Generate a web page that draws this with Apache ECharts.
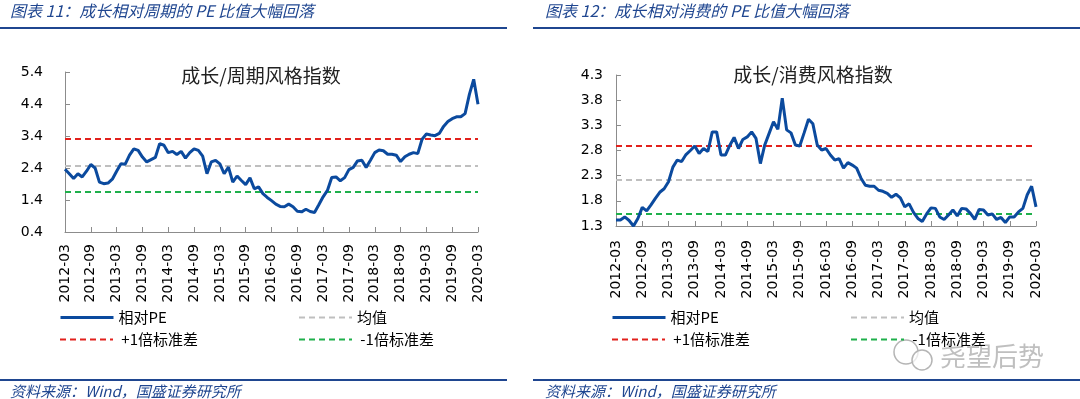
<!DOCTYPE html>
<html>
<head>
<meta charset="utf-8">
<script src="https://cdn.jsdelivr.net/npm/echarts@6/dist/echarts.min.js"></script>
<style>
  html, body { margin: 0; padding: 0; background: #fff; }
  #chart { width: 1080px; height: 399px; }
</style>
</head>
<body>
<div id="chart"></div>
<script>
// 月份：2012-03 ~ 2020-03
const months = []
for (let y = 2012; y <= 2020; y++) {
  for (let m = 1; m <= 12; m++) {
    if ((y === 2012 && m < 3) || (y === 2020 && m > 3)) continue
    months.push(y + '-' + String(m).padStart(2, '0'))
  }
}

// 成长/周期 相对PE
const cyclePE = [
  2.36, 2.22, 2.07, 2.22, 2.12, 2.30, 2.51, 2.40, 1.96, 1.91, 1.93, 2.05,
  2.30, 2.53, 2.52, 2.80, 3.00, 2.95, 2.74, 2.59, 2.66, 2.73, 3.16, 3.11,
  2.88, 2.92, 2.82, 2.92, 2.71, 2.88, 3.00, 2.95, 2.77, 2.22, 2.59, 2.64,
  2.53, 2.22, 2.43, 1.96, 2.15, 2.01, 1.88, 2.09, 1.75, 1.81, 1.60, 1.48,
  1.38, 1.27, 1.20, 1.19, 1.27, 1.19, 1.05, 1.03, 1.11, 1.04, 1.01, 1.25,
  1.50, 1.70, 2.10, 2.12, 2.00, 2.10, 2.35, 2.42, 2.62, 2.64, 2.42, 2.64,
  2.88, 2.96, 2.94, 2.83, 2.83, 2.80, 2.60, 2.75, 2.83, 2.88, 2.85, 3.30,
  3.46, 3.43, 3.41, 3.48, 3.70, 3.85, 3.94, 4.00, 4.00, 4.10, 4.70, 5.17,
  4.39
]
// 均值、+1倍、-1倍标准差
const cycleBands = [2.48, 3.31, 1.67]

// 成长/消费 相对PE
const consumePE = [
  1.42, 1.42, 1.48, 1.41, 1.30, 1.45, 1.67, 1.60, 1.72, 1.85, 1.97, 2.04,
  2.18, 2.47, 2.61, 2.58, 2.72, 2.80, 2.89, 2.74, 2.84, 2.78, 3.17, 3.17,
  2.71, 2.71, 2.90, 3.06, 2.84, 3.02, 3.07, 3.17, 3.04, 2.54, 2.91, 3.14,
  3.37, 3.22, 3.84, 3.21, 3.15, 2.91, 2.89, 3.15, 3.42, 3.33, 2.91, 2.81,
  2.84, 2.71, 2.61, 2.64, 2.45, 2.56, 2.51, 2.45, 2.25, 2.11, 2.09, 2.09,
  2.01, 1.99, 1.95, 1.87, 1.93, 1.86, 1.68, 1.74, 1.57, 1.45, 1.39, 1.54,
  1.66, 1.65, 1.48, 1.43, 1.52, 1.62, 1.50, 1.65, 1.64, 1.55, 1.43, 1.63,
  1.62, 1.52, 1.54, 1.43, 1.47, 1.37, 1.48, 1.48, 1.58, 1.65, 1.92, 2.09,
  1.68
]
const consumeBands = [2.22, 2.89, 1.55]

const bandNames = ['均值', '+1倍标准差', '-1倍标准差']
const bandColors = ['#bfbfbf', '#e2211c', '#1fb04b']
const blue = '#0b4a9e'
const axisGrey = '#8c8c8c'
const headBlue = '#1f4690'
const cjk = '"Noto Sans CJK SC", sans-serif'

function xAxisOf(gridIndex, margin) {
  return {
    gridIndex,
    type: 'category',
    data: months,
    boundaryGap: false,
    axisLine: { lineStyle: { color: axisGrey, width: 1 } },
    axisTick: { inside: true, length: 5, interval: 5, lineStyle: { color: axisGrey } },
    axisLabel: {
      interval: 5, rotate: 90, margin,
      fontFamily: 'DejaVu Sans', fontSize: 14, color: '#000'
    },
    splitLine: { show: false }
  }
}

function yAxisOf(gridIndex, min, max, interval, margin) {
  return {
    gridIndex,
    type: 'value',
    min, max, interval,
    axisLine: { show: true, lineStyle: { color: axisGrey, width: 1 } },
    axisTick: { show: true, inside: true, length: 5, lineStyle: { color: axisGrey } },
    axisLabel: {
      margin, fontFamily: 'DejaVu Sans', fontSize: 14, color: '#000',
      formatter: v => v.toFixed(1)
    },
    splitLine: { show: false }
  }
}

function seriesOf(idx, values, bands) {
  const list = [{
    name: '相对PE',
    type: 'line',
    xAxisIndex: idx,
    yAxisIndex: idx,
    data: values,
    symbol: 'none',
    lineStyle: { color: blue, width: 3 },
    itemStyle: { color: blue },
    z: 5
  }]
  bands.forEach((b, i) => {
    list.push({
      name: bandNames[i],
      type: 'line',
      xAxisIndex: idx,
      yAxisIndex: idx,
      data: [],
      symbol: 'none',
      lineStyle: { color: bandColors[i], width: 2, type: [6, 4] },
      itemStyle: { color: bandColors[i] },
      markLine: {
        silent: true,
        symbol: 'none',
        label: { show: false },
        lineStyle: { color: bandColors[i], width: 2, type: [6, 4] },
        data: [{ yAxis: b }]
      }
    })
  })
  return list
}

function legendOf(name, left, top, pad, width) {
  return {
    data: [name],
    left, top,
    padding: 0,
    itemWidth: 53,
    itemHeight: 14,
    selectedMode: false,
    itemStyle: { opacity: 0 },
    lineStyle: { width },
    formatter: n => (pad ? ' ' : '') + n,
    textStyle: { fontFamily: cjk, fontSize: 15, color: '#000' }
  }
}

const legends = []
;[[59, 298], [611, 850]].forEach(([a, b]) => {
  legends.push(legendOf('相对PE', a, 310, false, 3))
  legends.push(legendOf('均值', b, 310, false, 2))
  legends.push(legendOf('+1倍标准差', a, 332, true, 2))
  legends.push(legendOf('-1倍标准差', b, 332, true, 2))
})

const graphic = [
  // 顶部标题
  { type: 'text', x: 10, y: 11, style: { text: '图表 11：成长相对周期的 PE 比值大幅回落', font: 'italic 16px ' + cjk, fill: headBlue, textVerticalAlign: 'middle' } },
  { type: 'text', x: 545, y: 11, style: { text: '图表 12：成长相对消费的 PE 比值大幅回落', font: 'italic 16px ' + cjk, fill: headBlue, textVerticalAlign: 'middle' } },
  { type: 'line', shape: { x1: 0, y1: 28, x2: 507, y2: 28 }, style: { stroke: headBlue, lineWidth: 2 } },
  { type: 'line', shape: { x1: 533, y1: 28, x2: 1080, y2: 28 }, style: { stroke: headBlue, lineWidth: 2 } },
  // 图内标题
  { type: 'text', x: 261, y: 76, style: { text: '成长/周期风格指数', font: '19px ' + cjk, fill: '#222', textAlign: 'center', textVerticalAlign: 'middle' } },
  { type: 'text', x: 813, y: 75, style: { text: '成长/消费风格指数', font: '19px ' + cjk, fill: '#222', textAlign: 'center', textVerticalAlign: 'middle' } },
  // 底部来源
  { type: 'line', shape: { x1: 0, y1: 380, x2: 507, y2: 380 }, style: { stroke: headBlue, lineWidth: 2 } },
  { type: 'line', shape: { x1: 533, y1: 380, x2: 1080, y2: 380 }, style: { stroke: headBlue, lineWidth: 2 } },
  { type: 'text', x: 10, y: 391, style: { text: '资料来源：Wind，国盛证券研究所', font: 'italic 15px ' + cjk, fill: headBlue, textVerticalAlign: 'middle' } },
  { type: 'text', x: 545, y: 391, style: { text: '资料来源：Wind，国盛证券研究所', font: 'italic 15px ' + cjk, fill: headBlue, textVerticalAlign: 'middle' } },
  // 水印
  { type: 'circle', shape: { cx: 906, cy: 352, r: 12 }, style: { fill: 'rgba(255,255,255,0.7)', stroke: '#b5b5b5', lineWidth: 1.5 } },
  { type: 'circle', shape: { cx: 922, cy: 360, r: 10 }, style: { fill: 'rgba(255,255,255,0.7)', stroke: '#b5b5b5', lineWidth: 1.5 } },
  { type: 'text', x: 940, y: 356, style: { text: '尧望后势', font: '26px ' + cjk, fill: 'rgba(170,170,170,0.75)', textVerticalAlign: 'middle' } }
]

const option = {
  animation: false,
  backgroundColor: '#fff',
  grid: [
    { left: 65, top: 72, width: 413, height: 160 },
    { left: 616, top: 75, width: 420, height: 151 }
  ],
  xAxis: [xAxisOf(0, 12), xAxisOf(1, 14)],
  yAxis: [yAxisOf(0, 0.4, 5.4, 1, 22), yAxisOf(1, 1.3, 4.3, 0.5, 13)],
  legend: legends,
  graphic,
  series: [...seriesOf(0, cyclePE, cycleBands), ...seriesOf(1, consumePE, consumeBands)]
}

const chart = echarts.init(document.getElementById('chart'))
chart.setOption(option)
</script>
</body>
</html>
